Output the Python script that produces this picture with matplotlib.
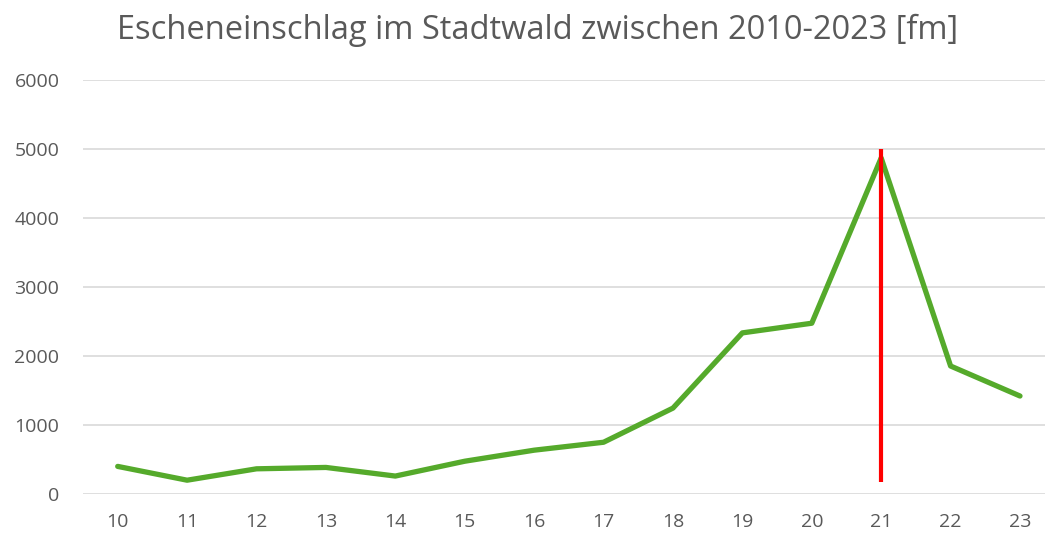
import matplotlib
matplotlib.use("Agg")
import matplotlib.pyplot as plt

years = ["10", "11", "12", "13", "14", "15", "16", "17", "18", "19", "20", "21", "22", "23"]
volume = [400, 200, 365, 385, 260, 475, 635, 750, 1245, 2335, 2475, 4870, 1855, 1420]
marker_year = 11          # index of "21"
marker_range = (170, 5000)
yticks = [0, 1000, 2000, 3000, 4000, 5000, 6000]

plt.rcParams["font.family"] = ["Open Sans", "DejaVu Sans"]
grey = "#595959"

fig = plt.figure(figsize=(10.45, 5.36), dpi=100)
ax = fig.add_axes([83 / 1045, 42 / 536, 971.7 / 1045, 414 / 536])

x = list(range(len(years)))
ax.plot(x, volume, color="#55AA2B", lw=3.8, solid_joinstyle="round", solid_capstyle="round", zorder=3)
ax.vlines(marker_year, *marker_range, color="#FF0000", lw=3, zorder=4)

ax.set_xlim(-0.5, len(years) - 0.5)
ax.set_ylim(0, 6000)
ax.set_xticks(x, years)
ax.set_yticks(yticks)
ax.grid(axis="y", color="#D9D9D9", lw=1.2)
ax.set_axisbelow(True)
for s in ax.spines.values():
    s.set_visible(False)
ax.tick_params(length=0, labelsize=14, colors=grey)
ax.tick_params(axis="x", pad=14)
ax.tick_params(axis="y", pad=17)

fig.text(0.514, 0.975, "Escheneinschlag im Stadtwald zwischen 2010-2023 [fm]",
         ha="center", va="top", fontsize=23.5, color=grey)

fig.savefig("out.png")
